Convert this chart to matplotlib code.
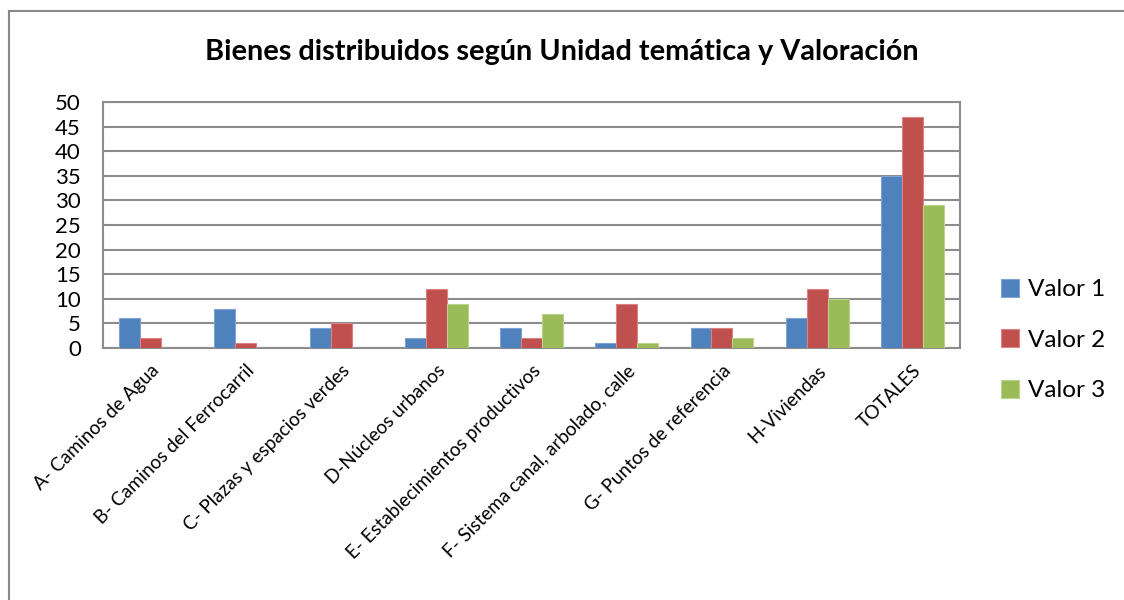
import numpy as np
import matplotlib.pyplot as plt
from matplotlib.patches import Rectangle

# Bienes por unidad temática y valoración
categorias = ['A- Caminos de Agua', 'B- Caminos del Ferrocarril', 'C- Plazas y espacios verdes',
              'D-Núcleos urbanos', 'E- Establecimientos productivos', 'F- Sistema canal, arbolado, calle',
              'G- Puntos de referencia', 'H-Viviendas', 'TOTALES']
valor_1 = [6, 8, 4, 2, 4, 1, 4, 6, 35]
valor_2 = [2, 1, 5, 12, 2, 9, 4, 12, 47]
valor_3 = [0, 0, 0, 9, 7, 1, 2, 10, 29]
series = ['Valor 1', 'Valor 2', 'Valor 3']
colores = ['#4F81BD', '#C0504D', '#9BBB59']
bordes = ['#7FA3D3', '#D98482', '#BBD38E']

plt.rcParams['font.family'] = ['Lato', 'DejaVu Sans']

fig = plt.figure(figsize=(11.24, 6), dpi=100)
ax = fig.add_axes([103 / 1124, 1 - 348 / 600, (960 - 103) / 1124, (348 - 102) / 600])

# marco exterior del gráfico
fig.patches.append(Rectangle((9 / 1124, -0.1), 1.2, 1 - 11 / 600 + 0.1, transform=fig.transFigure,
                             fill=False, edgecolor='#888888', linewidth=1.5, zorder=0))

x = np.arange(len(categorias))
ancho = 0.22
for i, (vals, nombre) in enumerate(zip([valor_1, valor_2, valor_3], series)):
    ax.bar(x + (i - 1) * ancho, vals, width=ancho, color=colores[i], edgecolor=bordes[i],
           linewidth=0.8, label=nombre, zorder=3)

ax.set_xlim(-0.5, len(categorias) - 0.5)
ax.set_ylim(0, 50)
ax.set_yticks(range(0, 51, 5))
ax.yaxis.grid(True, color='#8C8C8C', linewidth=1.5, zorder=0)
ax.set_axisbelow(True)
ax.tick_params(axis='both', length=0)
ax.tick_params(axis='y', labelsize=16, pad=16)
ax.set_xticks(x)
ax.set_xticklabels(categorias, rotation=45, ha='right', rotation_mode='anchor', fontsize=13.6)
ax.tick_params(axis='x', pad=10)
for s in ax.spines.values():
    s.set_color('#8C8C8C')
    s.set_linewidth(1.5)

fig.text(0.5, 1 - 52 / 600, 'Bienes distribuidos según Unidad temática y Valoración',
         ha='center', va='center', fontsize=20.8, fontweight='bold')

fig.legend(loc='center left', bbox_to_anchor=(979 / 1124, 1 - 340 / 600), frameon=False,
           fontsize=17.5, handlelength=0.75, handleheight=0.75, handletextpad=0.35, labelspacing=1.2)

fig.savefig('out.png', dpi=100)
